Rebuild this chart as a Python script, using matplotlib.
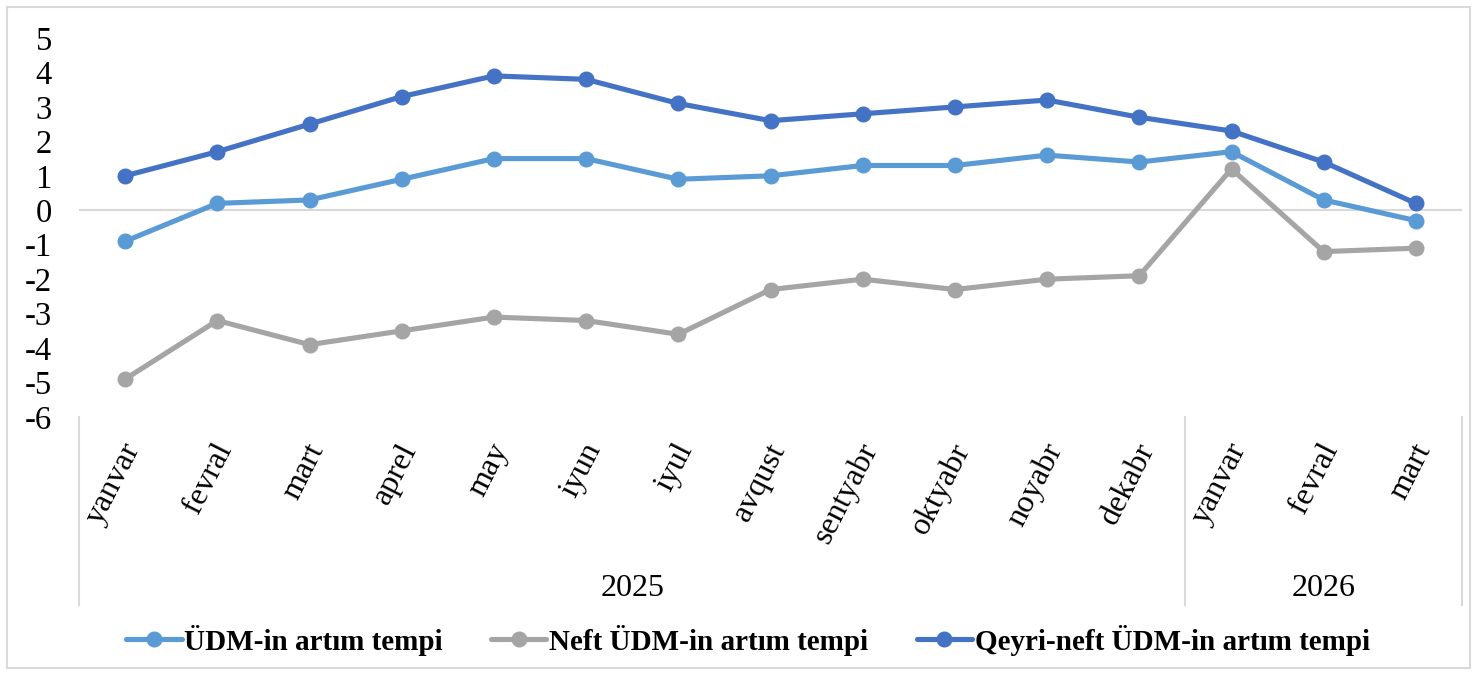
import matplotlib
matplotlib.use("Agg")
import matplotlib.pyplot as plt
from matplotlib.transforms import blended_transform_factory, ScaledTranslation
from matplotlib.patches import Rectangle
from matplotlib.lines import Line2D

months = ["yanvar", "fevral", "mart", "aprel", "may", "iyun", "iyul", "avqust",
          "sentyabr", "oktyabr", "noyabr", "dekabr", "yanvar", "fevral", "mart"]
years = ["2025", "2026"]
year_counts = [12, 3]

udm = [-0.9, 0.2, 0.3, 0.9, 1.5, 1.5, 0.9, 1.0, 1.3, 1.3, 1.6, 1.4, 1.7, 0.3, -0.3]
neft = [-4.9, -3.2, -3.9, -3.5, -3.1, -3.2, -3.6, -2.3, -2.0, -2.3, -2.0, -1.9, 1.2, -1.2, -1.1]
qeyri = [1.0, 1.7, 2.5, 3.3, 3.9, 3.8, 3.1, 2.6, 2.8, 3.0, 3.2, 2.7, 2.3, 1.4, 0.2]

series_names = ["ÜDM-in artım tempi", "Neft ÜDM-in artım tempi", "Qeyri-neft ÜDM-in artım tempi"]
colors = ["#5B9BD5", "#A5A5A5", "#4472C4"]

plt.rcParams['font.family'] = ['Liberation Serif', 'DejaVu Serif']

W, H = 1477, 675
fig = plt.figure(figsize=(W / 100, H / 100), dpi=100)
ax = fig.add_axes([79 / W, 1 - 417 / H, (1462 - 79) / W, (417 - 38) / H])

x = list(range(len(months)))
for vals, name, c in zip([udm, neft, qeyri], series_names, colors):
    ax.plot(x, vals, color=c, lw=3.7, marker='o', ms=10.5, label=name,
            solid_joinstyle='round', solid_capstyle='round', zorder=3)

ax.set_xlim(-0.5, len(months) - 0.5)
ax.set_ylim(-6, 5)
ax.set_yticks(range(-6, 6))
ax.set_yticklabels([str(v) for v in range(-6, 6)])
ax.tick_params(axis='y', length=0, labelsize=23.5, pad=19.5)
ax.tick_params(axis='x', length=0, labelbottom=False)
for s in ax.spines.values():
    s.set_visible(False)
ax.axhline(0, color="#D9D9D9", lw=1.5, zorder=1)

# month labels
tr = ax.get_xaxis_transform() + ScaledTranslation(8 / 100, -28 / 100, fig.dpi_scale_trans)
for i, m in enumerate(months):
    ax.text(i, 0, m, transform=tr, rotation=63, rotation_mode='anchor',
            ha='right', va='center', fontsize=23)

# group separators and year labels
bt = blended_transform_factory(ax.transData, fig.transFigure)
y_top = 1 - 417 / H
y_bot = 1 - 605 / H
edges = [-0.5]
for n in year_counts:
    edges.append(edges[-1] + n)
for e in edges:
    fig.add_artist(Line2D([e, e], [y_top, y_bot], transform=bt, color="#D9D9D9", lw=1.5))
for k, yname in enumerate(years):
    cx = (edges[k] + edges[k + 1]) / 2
    fig.text(cx, 1 - 588 / H, yname, transform=bt, ha='center', va='center', fontsize=23)

# legend
fig.legend(loc='center', bbox_to_anchor=(748 / W, 1 - 640 / H), ncol=3, frameon=False,
           prop={'weight': 'bold', 'size': 21}, handlelength=1.9, handletextpad=0.1,
           columnspacing=1.65)

# figure border
fig.add_artist(Rectangle((7 / W, 7 / H), (1470 - 7) / W, (668 - 7) / H, transform=fig.transFigure,
                         fill=False, edgecolor="#D9D9D9", lw=1.5))

fig.savefig("out.png", dpi=100)
